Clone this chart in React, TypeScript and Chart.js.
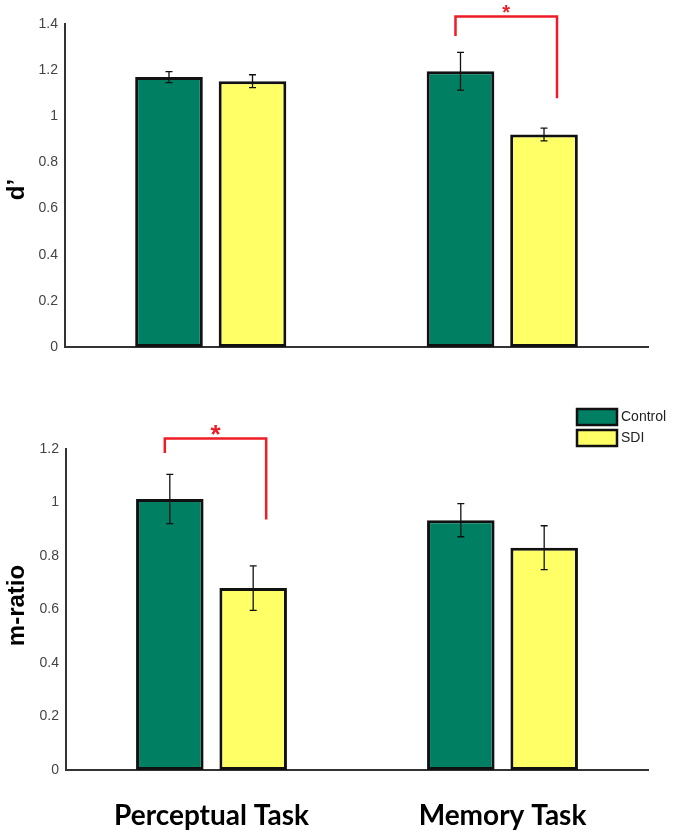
import React, { useEffect, useRef } from "react";
import { Chart, registerables } from "chart.js";

Chart.register(...registerables);

const categories = ["Perceptual Task", "Memory Task"];
const seriesLabels = ["Control", "SDI"];
const seriesColors = ["#007f63", "#ffff66"];

const dprimeControl = [1.17, 1.195];
const dprimeControlErr = [0.024, 0.082];
const dprimeSDI = [1.152, 0.921];
const dprimeSDIErr = [0.028, 0.028];
const dprimeMax = 1.4;
const dprimeStep = 0.2;

const mratioControl = [1.013, 0.934];
const mratioControlErr = [0.092, 0.062];
const mratioSDI = [0.68, 0.831];
const mratioSDIErr = [0.083, 0.082];
const mratioMax = 1.2;
const mratioStep = 0.2;

// significance brackets: category index, bracket top value, left leg end, right leg end
const dprimeBracket = { category: 1, top: 1.432, leftEnd: 1.348, rightEnd: 1.078 };
const mratioBracket = { category: 0, top: 1.239, leftEnd: 1.185, rightEnd: 0.936 };

const overlayPlugin = {
  id: "overlay",
  afterDatasetsDraw(chart: any, _args: any, opts: any) {
    const ctx = chart.ctx;
    const ys = chart.scales.y;
    ctx.save();
    chart.data.datasets.forEach((ds: any, di: number) => {
      const meta = chart.getDatasetMeta(di);
      const errs = opts.errors[di];
      meta.data.forEach((bar: any, i: number) => {
        const v = ds.data[i];
        const e = errs[i];
        const x = bar.x;
        const yt = ys.getPixelForValue(v + e);
        const yb = ys.getPixelForValue(v - e);
        ctx.strokeStyle = "#111";
        ctx.lineWidth = 1.3;
        ctx.beginPath();
        ctx.moveTo(x, yt);
        ctx.lineTo(x, yb);
        ctx.moveTo(x - 3.5, yt);
        ctx.lineTo(x + 3.5, yt);
        ctx.moveTo(x - 3.5, yb);
        ctx.lineTo(x + 3.5, yb);
        ctx.stroke();
      });
    });
    const b = opts.bracket;
    if (b) {
      const x1 = chart.getDatasetMeta(0).data[b.category].x - 5;
      const x2 = chart.getDatasetMeta(1).data[b.category].x + 13;
      const yTop = ys.getPixelForValue(b.top);
      const yL = ys.getPixelForValue(b.leftEnd);
      const yR = ys.getPixelForValue(b.rightEnd);
      ctx.strokeStyle = "#ee1c25";
      ctx.lineWidth = 2.5;
      ctx.lineCap = "butt";
      ctx.beginPath();
      ctx.moveTo(x1, yL);
      ctx.lineTo(x1, yTop);
      ctx.lineTo(x2, yTop);
      ctx.lineTo(x2, yR);
      ctx.stroke();
      ctx.fillStyle = "#ee1c25";
      ctx.font = `bold ${b.starSize || 24}px "Liberation Sans", Arial, sans-serif`;
      ctx.textAlign = "center";
      ctx.textBaseline = "middle";
      ctx.fillText("*", (x1 + x2) / 2, yTop - 3 + (b.starShift || 0));
    }
    ctx.restore();
  },
  afterDraw(chart: any, _args: any, opts: any) {
    const ctx = chart.ctx;
    ctx.save();
    if (opts.yTitle) {
      const ca = chart.chartArea;
      ctx.translate(opts.yTitleX, (ca.top + ca.bottom) / 2 + (opts.yTitleShift || 0));
      ctx.rotate(-Math.PI / 2);
      ctx.fillStyle = "#000";
      ctx.font = 'bold 24px "Liberation Sans", Arial, sans-serif';
      ctx.textAlign = "center";
      ctx.textBaseline = "middle";
      ctx.fillText(opts.yTitle, 0, 0);
      ctx.setTransform(1, 0, 0, 1, 0, 0);
    }
    ctx.restore();
    if (opts.legend) {
      const L = opts.legend;
      ctx.save();
      chart.data.datasets.forEach((ds: any, i: number) => {
        const y = L.y + i * L.rowH;
        ctx.fillStyle = ds.backgroundColor;
        ctx.fillRect(L.x, y, L.boxW, L.boxH);
        ctx.strokeStyle = "#111";
        ctx.lineWidth = 2.5;
        ctx.strokeRect(L.x, y, L.boxW, L.boxH);
        ctx.fillStyle = "#222";
        ctx.font = '14px "Liberation Sans", Arial, sans-serif';
        ctx.textAlign = "left";
        ctx.textBaseline = "middle";
        ctx.fillText(ds.label, L.x + L.boxW + 4, y + L.boxH / 2);
      });
      ctx.restore();
    }
  },
};

type PanelProps = {
  width: number;
  height: number;
  control: number[];
  sdi: number[];
  controlErr: number[];
  sdiErr: number[];
  max: number;
  step: number;
  padTop: number;
  yWidth: number;
  xHeight: number;
  showX: boolean;
  yTitle: string;
  yTitleShift: number;
  bracket: any;
  legend?: any;
};

function Panel(p: PanelProps) {
  const ref = useRef<HTMLCanvasElement>(null);
  useEffect(() => {
    const chart = new Chart(ref.current as HTMLCanvasElement, {
      type: "bar",
      data: {
        labels: categories,
        datasets: [
          {
            label: seriesLabels[0],
            data: p.control,
            backgroundColor: seriesColors[0],
            borderColor: "#111",
            borderWidth: 3,
            borderSkipped: false,
          },
          {
            label: seriesLabels[1],
            data: p.sdi,
            backgroundColor: seriesColors[1],
            borderColor: "#111",
            borderWidth: 3,
            borderSkipped: false,
          },
        ],
      },
      options: {
        responsive: false,
        animation: false,
        devicePixelRatio: 1,
        categoryPercentage: 0.573,
        barPercentage: 0.81,
        layout: { padding: { top: p.padTop, right: 27, left: 0, bottom: 0 } },
        plugins: {
          legend: { display: false },
          tooltip: { enabled: false },
          overlay: {
            errors: [p.controlErr, p.sdiErr],
            bracket: p.bracket,
            yTitle: p.yTitle,
            yTitleX: 17,
            yTitleShift: p.yTitleShift,
            legend: p.legend,
          },
        } as any,
        scales: {
          x: {
            grid: { display: false, drawTicks: false },
            border: { display: true, color: "#333", width: 2 },
            ticks: {
              display: p.showX,
              padding: 29,
              color: "#000",
              font: { family: "Lato, 'Open Sans', sans-serif", size: 28, weight: "bold" },
            },
            afterFit: (s: any) => {
              s.height = p.xHeight;
            },
          },
          y: {
            min: 0,
            max: p.max,
            grid: { display: false, drawTicks: false },
            border: { display: true, color: "#333", width: 2 },
            ticks: {
              stepSize: p.step,
              padding: 7,
              color: "#444",
              font: { family: "'Liberation Sans', Arial, sans-serif", size: 14 },
              callback: (v: any) => String(Math.round(Number(v) * 10) / 10),
            },
            afterFit: (s: any) => {
              s.width = p.yWidth;
            },
          },
        },
      },
      plugins: [overlayPlugin as any],
    });
    return () => chart.destroy();
  }, []);
  return <canvas ref={ref} width={p.width} height={p.height} style={{ display: "block" }} />;
}

export default function App() {
  useEffect(() => {
    document.body.style.margin = "0";
  }, []);
  return (
    <div style={{ position: "relative", width: 675, height: 836, background: "#fff" }}>
      <div style={{ position: "absolute", left: 0, top: 0 }}>
        <Panel
          width={675}
          height={380}
          control={dprimeControl}
          sdi={dprimeSDI}
          controlErr={dprimeControlErr}
          sdiErr={dprimeSDIErr}
          max={dprimeMax}
          step={dprimeStep}
          padTop={24}
          yWidth={65}
          xHeight={33}
          showX={false}
          yTitle="d’"
          yTitleShift={4}
          bracket={{ ...dprimeBracket, starSize: 20, starShift: 0 }}
        />
      </div>
      <div style={{ position: "absolute", left: 0, top: 380 }}>
        <Panel
          width={675}
          height={456}
          control={mratioControl}
          sdi={mratioSDI}
          controlErr={mratioControlErr}
          sdiErr={mratioSDIErr}
          max={mratioMax}
          step={mratioStep}
          padTop={69}
          yWidth={66}
          xHeight={66}
          showX={true}
          yTitle="m-ratio"
          yTitleShift={-4}
          bracket={{ ...mratioBracket, starSize: 26, starShift: 0 }}
          legend={{ x: 577, y: 29, boxW: 40, boxH: 16, rowH: 21 }}
        />
      </div>
    </div>
  );
}
